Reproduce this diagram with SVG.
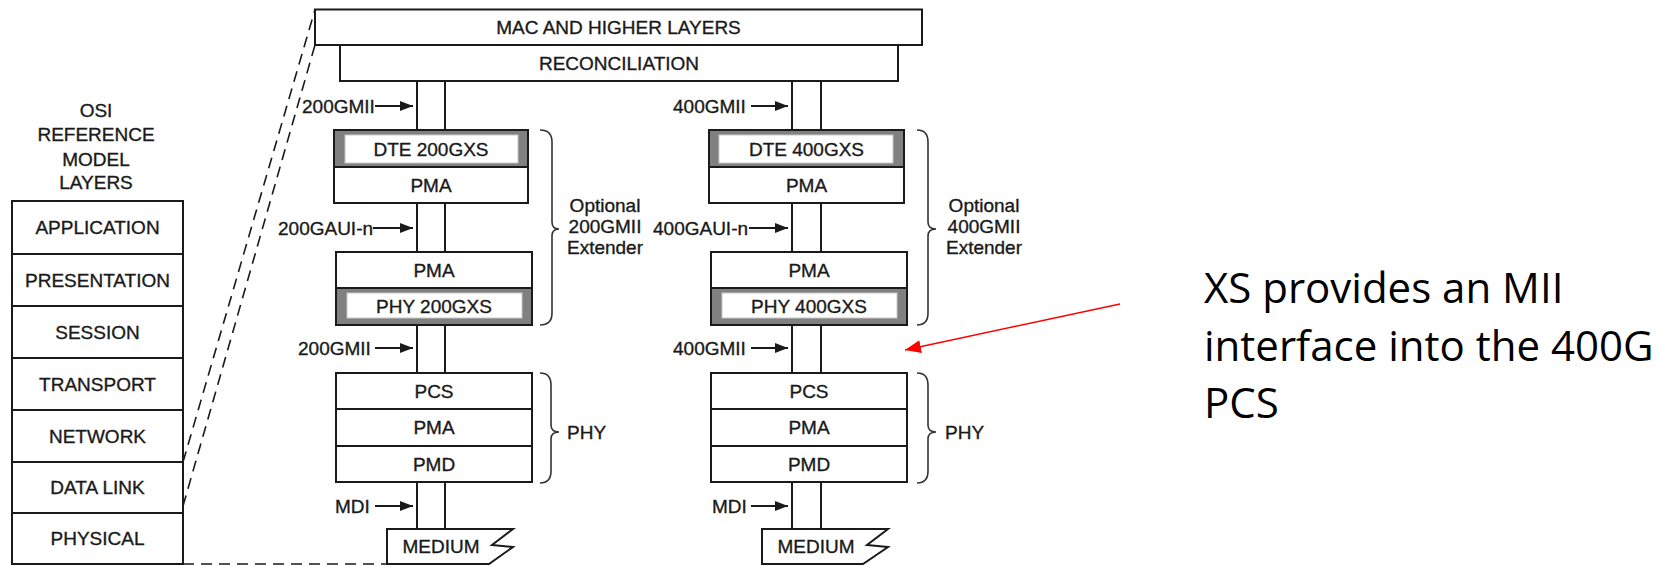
<svg xmlns="http://www.w3.org/2000/svg" width="1660" height="566" viewBox="0 0 1660 566">
<style>
.bx{fill:#fff;stroke:#1a1a1a;stroke-width:2}
.xs{fill:#808080;stroke:#1a1a1a;stroke-width:2}
.xi{fill:#fff;stroke:#c8c8c8;stroke-width:1}
.t{font-family:"Liberation Sans",Arial,sans-serif;font-size:19px;fill:#1a1a1a;stroke:#1a1a1a;stroke-width:0.35;text-anchor:middle}
.l{font-family:"Liberation Sans",Arial,sans-serif;font-size:19px;fill:#1a1a1a;stroke:#1a1a1a;stroke-width:0.35}
.ln{stroke:#1a1a1a;stroke-width:2;fill:none}
.ds{stroke:#1a1a1a;stroke-width:1.6;fill:none;stroke-dasharray:11 7}
.br{stroke:#333;stroke-width:1.6;fill:none}
.note{font-family:"Open Sans","Noto Sans",sans-serif;font-size:42px;fill:#000}
</style>
<defs>
<marker id="ah" markerUnits="userSpaceOnUse" markerWidth="13" markerHeight="10" refX="13" refY="5" orient="auto">
<path d="M0,0 L13,5 L0,10 z" fill="#1a1a1a"/>
</marker>
<marker id="rh" markerUnits="userSpaceOnUse" markerWidth="16" markerHeight="13" refX="16" refY="6.5" orient="auto">
<path d="M0,0 L16,6.5 L0,13 z" fill="#ff0000"/>
</marker>
</defs>

<!-- OSI reference model -->
<g id="osi-title">
<text class="t" x="96" y="117">OSI</text>
<text class="t" x="96" y="141">REFERENCE</text>
<text class="t" x="96" y="166">MODEL</text>
<text class="t" x="96" y="189">LAYERS</text>
</g>
<g id="osi-application"><rect class="bx" x="12" y="201" width="171" height="53"/><text class="t" x="97.5" y="234">APPLICATION</text></g>
<g id="osi-presentation"><rect class="bx" x="12" y="254" width="171" height="52"/><text class="t" x="97.5" y="287">PRESENTATION</text></g>
<g id="osi-session"><rect class="bx" x="12" y="306" width="171" height="52"/><text class="t" x="97.5" y="339">SESSION</text></g>
<g id="osi-transport"><rect class="bx" x="12" y="358" width="171" height="52"/><text class="t" x="97.5" y="391">TRANSPORT</text></g>
<g id="osi-network"><rect class="bx" x="12" y="410" width="171" height="52"/><text class="t" x="97.5" y="443">NETWORK</text></g>
<g id="osi-datalink"><rect class="bx" x="12" y="462" width="171" height="51"/><text class="t" x="97.5" y="494">DATA LINK</text></g>
<g id="osi-physical"><rect class="bx" x="12" y="513" width="171" height="51"/><text class="t" x="97.5" y="545">PHYSICAL</text></g>

<!-- Top shared layers -->
<g id="mac"><rect class="bx" x="315" y="9.5" width="607" height="35.5"/><text class="t" x="618.5" y="34">MAC AND HIGHER LAYERS</text></g>
<g id="reconciliation"><rect class="bx" x="340" y="45" width="558" height="36"/><text class="t" x="619" y="70">RECONCILIATION</text></g>

<!-- 200G stack -->
<g id="dte-200gxs"><rect class="xs" x="334" y="130" width="194" height="37"/><rect class="xi" x="345" y="135" width="173" height="28"/><text class="t" x="431" y="156">DTE 200GXS</text></g>
<g id="pma-200-a"><rect class="bx" x="334" y="167" width="194" height="36"/><text class="t" x="431" y="192">PMA</text></g>
<g id="pma-200-b"><rect class="bx" x="336" y="252" width="196" height="36"/><text class="t" x="434" y="277">PMA</text></g>
<g id="phy-200gxs"><rect class="xs" x="336" y="288" width="196" height="37"/><rect class="xi" x="347" y="293" width="175" height="25"/><text class="t" x="434" y="313">PHY 200GXS</text></g>
<g id="pcs-200"><rect class="bx" x="336" y="373" width="196" height="36"/><text class="t" x="434" y="398">PCS</text></g>
<g id="pma-200-c"><rect class="bx" x="336" y="409" width="196" height="37"/><text class="t" x="434" y="434">PMA</text></g>
<g id="pmd-200"><rect class="bx" x="336" y="446" width="196" height="36"/><text class="t" x="434" y="471">PMD</text></g>
<g id="medium-200"><path class="bx" d="M387,529 L513,529 L492,545 L513,547 L489,564 L387,564 Z"/><text class="t" x="441" y="553">MEDIUM</text></g>

<!-- 400G stack -->
<g id="dte-400gxs"><rect class="xs" x="709" y="130" width="195" height="37"/><rect class="xi" x="719" y="135" width="174" height="28"/><text class="t" x="806.5" y="156">DTE 400GXS</text></g>
<g id="pma-400-a"><rect class="bx" x="709" y="167" width="195" height="36"/><text class="t" x="806.5" y="192">PMA</text></g>
<g id="pma-400-b"><rect class="bx" x="711" y="252" width="196" height="36"/><text class="t" x="809" y="277">PMA</text></g>
<g id="phy-400gxs"><rect class="xs" x="711" y="288" width="196" height="37"/><rect class="xi" x="722" y="293" width="175" height="25"/><text class="t" x="809" y="313">PHY 400GXS</text></g>
<g id="pcs-400"><rect class="bx" x="711" y="373" width="196" height="36"/><text class="t" x="809" y="398">PCS</text></g>
<g id="pma-400-c"><rect class="bx" x="711" y="409" width="196" height="37"/><text class="t" x="809" y="434">PMA</text></g>
<g id="pmd-400"><rect class="bx" x="711" y="446" width="196" height="36"/><text class="t" x="809" y="471">PMD</text></g>
<g id="medium-400"><path class="bx" d="M762,529 L888,529 L867,545 L888,547 L863,564 L762,564 Z"/><text class="t" x="816" y="553">MEDIUM</text></g>

<!-- Braces and their labels -->
<g id="ext-200">
<path class="br" d="M540,130 Q552,130 552,142 L552,222 Q552,229 559,229 Q552,229 552,236 L552,313 Q552,325 540,325"/>
<text class="t" x="605" y="212">Optional</text><text class="t" x="605" y="233">200GMII</text><text class="t" x="605" y="254">Extender</text>
</g>
<g id="phy-brace-200">
<path class="br" d="M540,373 Q551,373 551,385 L551,425 Q551,432 559,432 Q551,432 551,439 L551,471 Q551,483 540,483"/>
<text class="l" x="567" y="439">PHY</text>
</g>
<g id="ext-400">
<path class="br" d="M917,130 Q928,130 928,142 L928,222 Q928,229 936,229 Q928,229 928,236 L928,313 Q928,325 917,325"/>
<text class="t" x="984" y="212">Optional</text><text class="t" x="984" y="233">400GMII</text><text class="t" x="984" y="254">Extender</text>
</g>
<g id="phy-brace-400">
<path class="br" d="M917,373 Q928,373 928,385 L928,425 Q928,432 936,432 Q928,432 928,439 L928,471 Q928,483 917,483"/>
<text class="l" x="945" y="439">PHY</text>
</g>

<!-- Annotation -->
<g id="note">
<text class="note" x="1204" y="303">XS provides an MII</text>
<text class="note" x="1204" y="361">interface into the 400G</text>
<text class="note" x="1204" y="418">PCS</text>
</g>

<!-- Connectors -->
<g id="connectors">
<path class="ln" d="M417,81V130M445,81V130M417,203V252M445,203V252M417,325V373M445,325V373M417,482V529M445,482V529"/>
<path class="ln" d="M792,81V130M821,81V130M792,203V252M821,203V252M792,325V373M821,325V373M792,482V529M821,482V529"/>
<path class="ds" d="M183,462 L315,9.5"/>
<path class="ds" d="M183,506 L315,45"/>
<path class="ds" d="M183,564 L387,564"/>
<g id="if-labels">
<text class="l" x="302" y="113">200GMII</text><line class="ln" x1="375" y1="106" x2="413" y2="106" marker-end="url(#ah)"/>
<text class="l" x="278" y="235">200GAUI-n</text><line class="ln" x1="373" y1="228" x2="413" y2="228" marker-end="url(#ah)"/>
<text class="l" x="298" y="355">200GMII</text><line class="ln" x1="375" y1="348" x2="413" y2="348" marker-end="url(#ah)"/>
<text class="l" x="335" y="513">MDI</text><line class="ln" x1="375" y1="506" x2="413" y2="506" marker-end="url(#ah)"/>
<text class="l" x="673" y="113">400GMII</text><line class="ln" x1="751" y1="106" x2="788" y2="106" marker-end="url(#ah)"/>
<text class="l" x="653" y="235">400GAUI-n</text><line class="ln" x1="749" y1="228" x2="788" y2="228" marker-end="url(#ah)"/>
<text class="l" x="673" y="355">400GMII</text><line class="ln" x1="751" y1="348" x2="788" y2="348" marker-end="url(#ah)"/>
<text class="l" x="712" y="513">MDI</text><line class="ln" x1="751" y1="506" x2="788" y2="506" marker-end="url(#ah)"/>
</g>
<line x1="1120" y1="304" x2="905" y2="350" stroke="#ff0000" stroke-width="1.4" marker-end="url(#rh)"/>
</g>
</svg>
